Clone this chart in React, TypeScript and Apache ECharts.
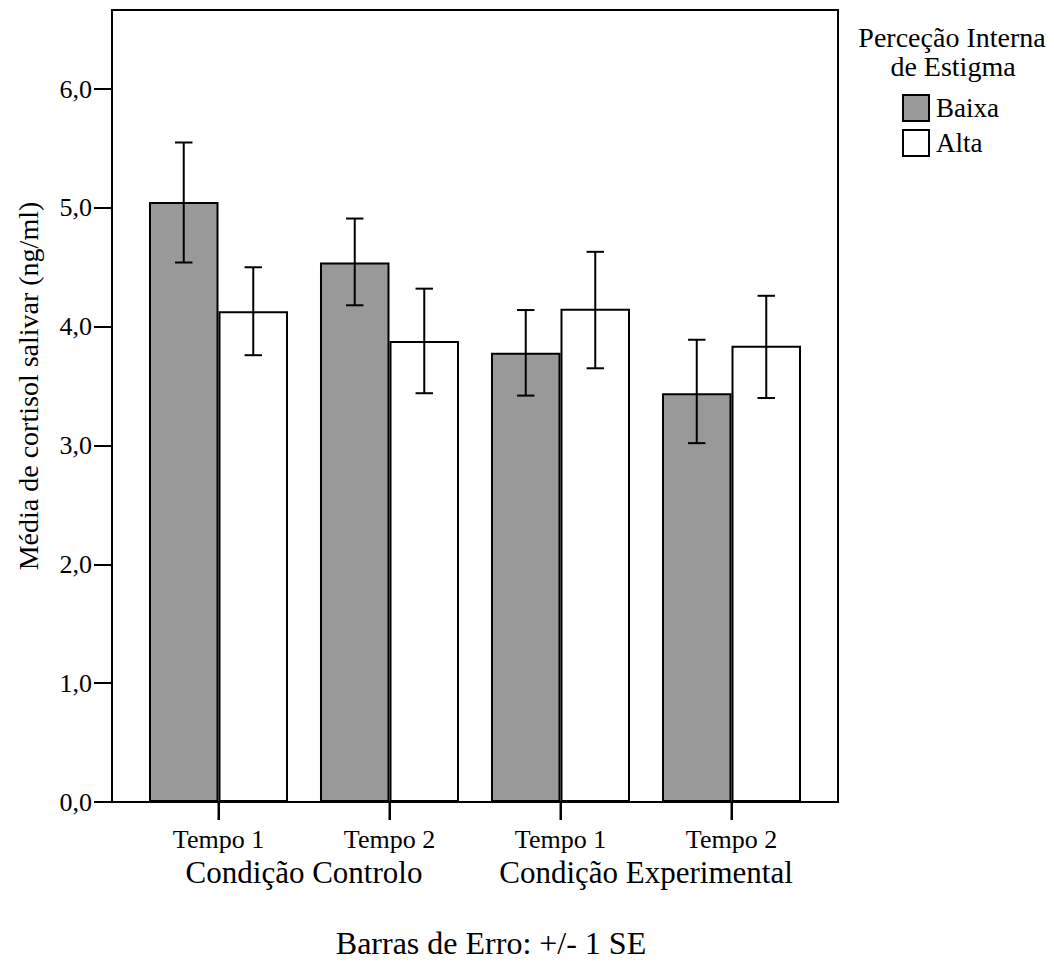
import React, { useEffect, useRef } from "react";
import * as echarts from "echarts";

const timeLabels = ["Tempo 1", "Tempo 2", "Tempo 1", "Tempo 2"];
const conditionLabels = ["Condição Controlo", "Condição Experimental"];
const seriesNames = ["Baixa", "Alta"];
const baixa = [5.05, 4.54, 3.78, 3.44];
const baixaLow = [4.54, 4.18, 3.42, 3.02];
const baixaHigh = [5.55, 4.91, 4.14, 3.89];
const alta = [4.13, 3.88, 4.15, 3.84];
const altaLow = [3.76, 3.44, 3.65, 3.4];
const altaHigh = [4.5, 4.32, 4.63, 4.26];
const yTicks = [0, 1, 2, 3, 4, 5, 6];
const yMax = 6.665;
const yTitle = "Média de cortisol salivar (ng/ml)";
const legendTitle = ["Perceção Interna", "de Estigma"];
const footnote = "Barras de Erro: +/- 1 SE";

const FONT = "Liberation Serif";
const GAP = 0.187;

function errorSeries(name: string, low: number[], high: number[], side: number) {
  return {
    type: "custom",
    name: name + "-err",
    z: 5,
    data: low.map((l, i) => [i, l, high[i]]),
    encode: { x: 0, y: [1, 2] },
    renderItem: (params: any, api: any) => {
      const i = api.value(0);
      const lo = api.coord([i, api.value(1)]);
      const hi = api.coord([i, api.value(2)]);
      const band = api.size([1, 0])[0];
      const barW = (band * (1 - GAP)) / 2;
      const x = lo[0] + (side * barW) / 2;
      const cap = 8.7;
      const st = { stroke: "#000", lineWidth: 2 };
      return {
        type: "group",
        children: [
          { type: "line", shape: { x1: x, y1: lo[1], x2: x, y2: hi[1] }, style: st },
          { type: "line", shape: { x1: x - cap, y1: lo[1], x2: x + cap, y2: lo[1] }, style: st },
          { type: "line", shape: { x1: x - cap, y1: hi[1], x2: x + cap, y2: hi[1] }, style: st },
        ],
      };
    },
  };
}

export default function App() {
  const ref = useRef<HTMLDivElement>(null);
  useEffect(() => {
    const chart = echarts.init(ref.current!, null, { renderer: "svg" });
    const gridLeft = 133, gridRight = 237, gridTop = 10, gridBottom = 162;
    chart.setOption({
      animation: false,
      backgroundColor: "#fff",
      textStyle: { fontFamily: FONT, color: "#000" },
      grid: { left: gridLeft, right: gridRight, top: gridTop, bottom: gridBottom },
      legend: {
        data: seriesNames,
        orient: "vertical",
        left: 902,
        top: 94,
        padding: 0,
        itemWidth: 26,
        itemHeight: 26,
        itemGap: 7,
        icon: "rect",
        textStyle: { fontFamily: FONT, fontSize: 27, color: "#000", lineHeight: 26, padding: [0, 0, 0, 2] },
        selectedMode: false,
      },
      xAxis: [
        {
          type: "category",
          data: timeLabels,
          position: "bottom",
          boundaryGap: true,
          axisLine: { show: true, lineStyle: { color: "#000", width: 2 } },
          axisTick: { show: true, interval: 0, alignWithLabel: true, length: 18, lineStyle: { color: "#000", width: 2 } },
          axisLabel: { margin: 24, fontSize: 26, color: "#000", fontFamily: FONT, interval: 0 },
          splitLine: { show: false },
        },
        {
          type: "category",
          data: conditionLabels,
          position: "bottom",
          offset: 0,
          boundaryGap: true,
          axisLine: { show: false },
          axisTick: { show: false },
          axisLabel: { margin: 55, fontSize: 31, color: "#000", fontFamily: FONT, interval: 0 },
          splitLine: { show: false },
        },
      ],
      yAxis: {
        type: "value",
        min: 0,
        max: yMax,
        interval: 1,
        offset: 21,
        axisLine: { show: true, lineStyle: { color: "#000", width: 2 } },
        axisTick: { show: true, length: 18, lineStyle: { color: "#000", width: 2 }, customValues: yTicks },
        axisLabel: {
          margin: 20,
          fontSize: 26,
          color: "#000",
          fontFamily: FONT,
          customValues: yTicks,
          formatter: (v: number) => v.toFixed(1).replace(".", ","),
        },
        splitLine: { show: false },
      },
      series: [
        {
          type: "bar",
          name: seriesNames[0],
          data: baixa,
          barGap: "0%",
          barCategoryGap: GAP * 100 + "%",
          itemStyle: { color: "#999999", borderColor: "#000", borderWidth: 2 },
        },
        {
          type: "bar",
          name: seriesNames[1],
          data: alta,
          barGap: "0%",
          barCategoryGap: GAP * 100 + "%",
          itemStyle: { color: "#ffffff", borderColor: "#000", borderWidth: 2 },
        },
        errorSeries("Baixa", baixaLow, baixaHigh, -1),
        errorSeries("Alta", altaLow, altaHigh, 1),
        {
          type: "custom",
          name: "xticks",
          z: 5,
          clip: false,
          data: timeLabels.map((_, i) => [i, 0]),
          encode: { x: 0, y: 1 },
          renderItem: (params: any, api: any) => {
            const p = api.coord([api.value(0), 0]);
            return {
              type: "line",
              shape: { x1: p[0], y1: p[1], x2: p[0], y2: p[1] + 18 },
              style: { stroke: "#000", lineWidth: 2 },
            };
          },
        },
      ],
      graphic: [
        {
          type: "rect",
          z: 100,
          shape: { x: 112, y: 10, width: 726, height: 792 },
          style: { fill: "none", stroke: "#000", lineWidth: 2 },
        },
        {
          type: "text",
          x: 28,
          y: 386,
          rotation: Math.PI / 2,
          style: { text: yTitle, fontFamily: FONT, fontSize: 28, fill: "#000", align: "center", verticalAlign: "middle" },
        },
        {
          type: "text",
          x: 952,
          y: 37.5,
          style: { text: legendTitle[0], fontFamily: FONT, fontSize: 28, fill: "#000", align: "center", verticalAlign: "middle" },
        },
        {
          type: "text",
          x: 953,
          y: 66,
          style: { text: legendTitle[1], fontFamily: FONT, fontSize: 28, fill: "#000", align: "center", verticalAlign: "middle" },
        },
        {
          type: "text",
          x: 491,
          y: 943,
          style: { text: footnote, fontFamily: FONT, fontSize: 32, fill: "#000", align: "center", verticalAlign: "middle" },
        },
      ],
    });
    return () => chart.dispose();
  }, []);
  return <div ref={ref} style={{ position: "fixed", left: 0, top: 0, width: 1054, height: 964 }} />;
}
